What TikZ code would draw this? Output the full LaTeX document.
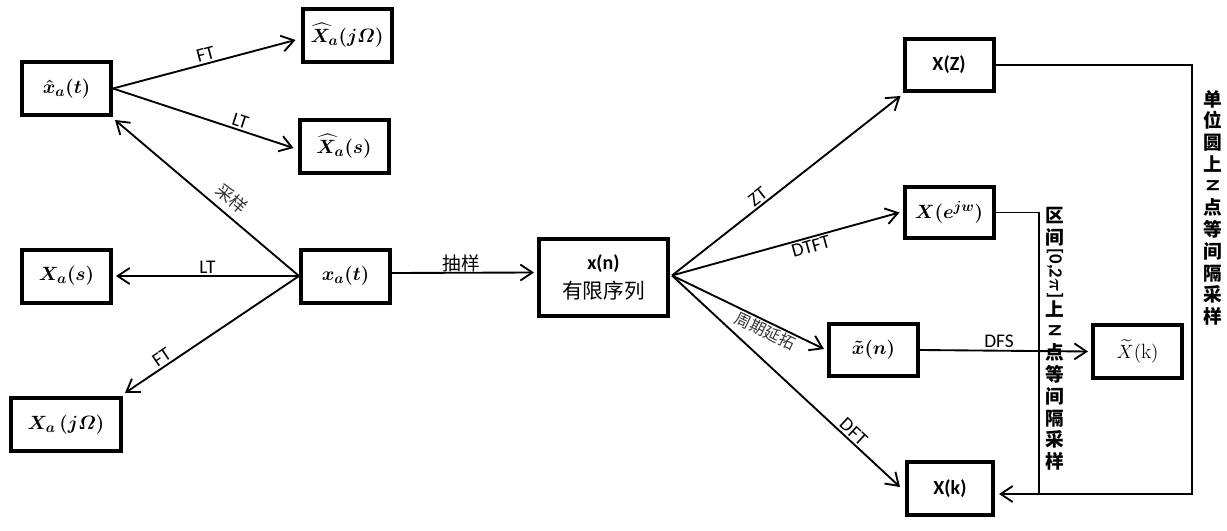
\documentclass[tikz,border=0pt]{standalone}
\usepackage{fontspec}
\usepackage{amsmath,bm}
\newfontfamily\cjk{Noto Sans CJK SC}
\newfontfamily\calib{Carlito}
\usetikzlibrary{arrows.meta,calc}
\begin{document}
\begin{tikzpicture}[x=0.75pt,y=-0.75pt,
  box/.style={draw,line width=3pt,inner sep=0pt,align=center,minimum width=66.75pt,minimum height=39.75pt},
  conn/.style={line width=1.4pt},
  arr/.style={conn,-{Straight Barb[length=9pt,width=12pt]}},
  lab/.style={font=\calib\fontsize{14.5}{16}\selectfont,inner sep=1.5pt},
  clab/.style={font=\cjk\fontsize{13}{15}\selectfont,inner sep=1pt,text=black!80},
  mth/.style={font=\fontsize{15.5}{18}\selectfont\boldmath},
  calibb/.style={font=\calib\bfseries\fontsize{15}{17}\selectfont},
  vtext/.style={font=\cjk\bfseries\fontsize{14}{16.3}\selectfont,align=center,inner sep=0pt},
  vlat/.style={font=\calib\bfseries\fontsize{14}{16}\selectfont,inner sep=1.5pt,rotate=-90,anchor=west}]
\useasboundingbox (0,0) rectangle (1227,531);

% boxes
\node[box,mth] (hxa) at (66.5,88.5) {$\hat{x}_a(t)$};
\node[box,mth] (hXaj) at (347,35.5) {$\widehat{X}_a(j\varOmega)$};
\node[box,mth] (hXas) at (344,146.5) {$\widehat{X}_a(s)$};
\node[box,mth] (Xas) at (66.5,276) {$X_a(s)$};
\node[box,mth] (xat) at (345.5,276) {$x_a(t)$};
\node[box,mth,minimum width=82.5pt] (Xaj) at (66,424.5) {$X_a\,(j\varOmega)$};
\node[box,minimum width=96.75pt,minimum height=57.75pt] (xn) at (603.5,277.5)
  {{\calib\bfseries\fontsize{15}{17}\selectfont x(n)}\\[5pt]{\cjk\fontsize{15.5}{17}\selectfont 有限序列}};
\node[box,calibb,minimum height=39pt] (XZ) at (949,65) {X(Z)};
\node[box,mth,minimum height=38.25pt] (Xejw) at (949,212.5) {$X(e^{jw})$};
\node[box,mth,minimum height=39pt] (txn) at (873.5,350) {$\tilde{x}(n)$};
\node[box,calibb,minimum width=64.5pt] (Xk) at (950,488.5) {X(k)};
\node[box,font=\fontsize{15.5}{18}\selectfont] (tXk) at (1137.5,351.5) {$\widetilde{X}(\mathrm{k})$};

% left connectors
\draw[arr] (hxa.east) -- node[lab,sloped,above,pos=0.52] (lFT1) {FT} ($(hXaj.west)+(-5,4.5)$);
\draw[arr] (hxa.east) -- node[lab,sloped,above,pos=0.69] (lLT1) {LT} ($(hXas.west)+(-4,1.5)$);
\draw[arr] (xat.west) -- node[clab,sloped,above=4pt,pos=0.42] (lcy) {采样} ($(hxa.south east)+(2,3)$);
\draw[arr] (xat.west) -- node[lab,above,pos=0.5] (lLT2) {LT} ($(Xas.east)+(3,0)$);
\draw[arr] (xat.west) -- node[lab,sloped,above,pos=0.76] (lFT2) {FT} ($(Xaj.north east)+(2,-3)$);
\draw[arr] ($(xat.east)+(0,-3)$) -- node[clab,font=\cjk\fontsize{14}{16}\selectfont,text=black,above,pos=0.49,inner sep=0pt] (lcy2) {抽样} ($(xn.west)+(-3,-5)$);

% right connectors
\draw[arr] ($(xn.east)+(2,-2)$) -- node[lab,sloped,above,pos=0.4] (lZT) {ZT} ($(XZ.south west)+(-2,3)$);
\draw[arr] ($(xn.east)+(2,-2)$) -- node[lab,sloped,below,pos=0.6] (lDTFT) {DTFT} ($(Xejw.west)+(-3,0)$);
\draw[arr] ($(xn.east)+(2,-2)$) -- node[clab,font=\cjk\fontsize{12}{14}\selectfont,sloped,below,pos=0.64,inner sep=0.5pt] (lzq) {周期延拓} ($(txn.west)+(-3,-1)$);
\draw[arr] ($(xn.east)+(2,-2)$) -- node[lab,sloped,above,pos=0.77] (lDFT) {DFT} ($(Xk.west)+(-5,-1.5)$);
\draw[arr] (txn.east) -- node[lab,above,pos=0.47] (lDFS) {DFS} ($(tXk.west)+(-3,0)$);

% sampling loops
\coordinate (tr) at (1192,65);
\coordinate (br) at (1192,494);
\coordinate (mt) at (1039,212.5);
\coordinate (mb) at (1039,494);
\draw[conn] (XZ.east) -- (tr) -- (br) -- (mb);
\draw[arr] (mb) -- ($(Xk.east)+(4,5.5)$);
\draw[conn] (Xejw.east) -- (mt) -- (mb);

% vertical labels
\node[vtext,anchor=north] (A1) at (1055,207) {区\\间};
\node[vlat] (A2) at (A1.south) {[0,2$\bm{\pi}$]};
\node[vtext,anchor=north] (A3) at (A2.east) {上};
\node[vlat,inner xsep=5pt] (A4) at (A3.south) {N};
\node[vtext,anchor=north] (A5) at (A4.east) {点\\等\\间\\隔\\采\\样};
\node[vtext,anchor=north] (B1) at (1213,90) {单\\位\\圆\\上};
\node[vlat,inner xsep=5pt] (B2) at (B1.south) {N};
\node[vtext,anchor=north] (B3) at (B2.east) {点\\等\\间\\隔\\采\\样};
\end{tikzpicture}
\end{document}
